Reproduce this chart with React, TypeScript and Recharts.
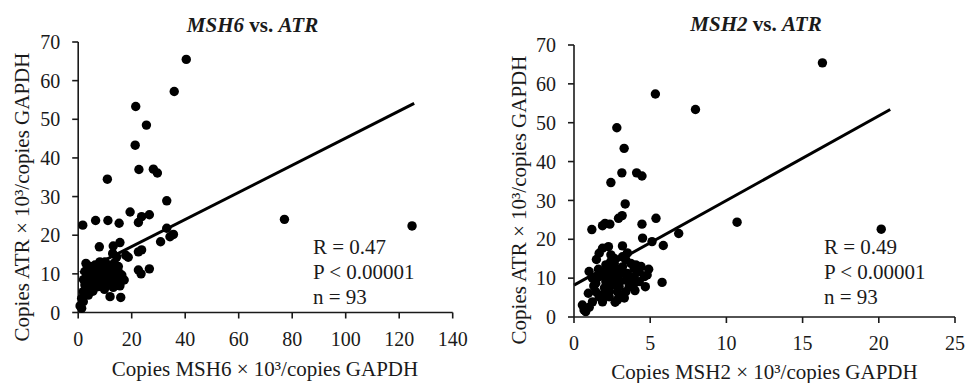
import React from 'react';
import { ScatterChart, Scatter, XAxis, YAxis, ReferenceLine, Label } from 'recharts';

const FONT = "'Liberation Serif', 'Times New Roman', serif";
const INK = '#1a1a1a';

// Left panel: MSH6 (x) vs ATR (y)
const msh6Values = [
  40.4, 35.9, 21.5, 25.5, 21.3, 22.7, 28.1, 29.6, 10.9, 33.1, 19.4, 1.7, 6.5, 11.1, 15.3, 22.5,
  23.7, 26.6, 77.1, 124.8, 7.9, 13.1, 15.6, 12.9, 14.4, 18.7, 22.5, 23.7, 22.5, 26.6, 23.5, 30.8,
  34.3, 35.6, 33.1, 11.9, 15.9, 15.6, 17.2, 16.3, 14.4, 2.9, 4.4, 2.5, 6.3, 8.1, 10.0, 11.3,
  12.5, 9.4, 6.9, 5.0, 7.5, 10.0, 11.9, 13.8, 8.8, 6.3, 3.8, 10.7, 13.1, 7.5, 5.0, 2.5,
  1.9, 3.8, 1.3, 1.9, 0.7, 1.3, 15.0, 15.0, 16.3, 12.9, 9.4, 4.7, 5.7, 11.3, 3.2, 8.5,
  9.0, 4.2, 7.0, 12.0, 2.0, 6.0, 10.5, 13.5, 17.8, 3.5, 8.0, 5.5, 9.8,
];
const atrVsMsh6 = [
  65.5, 57.2, 53.3, 48.5, 43.3, 37.0, 37.1, 36.1, 34.5, 28.9, 26.0, 22.6, 23.8, 23.8, 23.1, 23.3,
  24.8, 25.3, 24.1, 22.4, 17.0, 17.2, 18.1, 15.3, 14.4, 14.3, 15.7, 16.2, 11.0, 11.3, 10.0, 18.3,
  19.6, 20.2, 21.8, 4.1, 3.9, 6.9, 8.4, 9.7, 9.3, 12.7, 11.9, 10.6, 12.3, 13.1, 13.1, 12.3,
  11.9, 11.0, 10.6, 9.7, 9.3, 9.7, 8.8, 8.4, 8.0, 8.0, 8.4, 7.1, 6.5, 6.7, 6.7, 7.1,
  5.4, 4.5, 3.7, 2.8, 1.7, 1.1, 10.6, 11.9, 8.8, 10.1, 12.3, 11.0, 8.8, 8.0, 9.5, 10.2,
  7.0, 6.0, 12.0, 10.5, 8.5, 10.2, 11.5, 12.8, 14.8, 12.0, 8.8, 5.5, 6.0,
];

// Right panel: MSH2 (x) vs ATR (y)
const msh2Values = [
  16.3, 5.34, 7.97, 2.81, 3.29, 3.14, 4.11, 4.46, 2.42, 3.36, 10.7, 20.16, 6.87, 5.38, 4.46, 4.5,
  5.12, 5.86, 5.78, 4.9, 3.16, 2.92, 3.18, 1.17, 1.87, 2.04, 2.35, 1.87, 2.26, 1.65, 1.47, 2.42,
  2.64, 0.99, 0.94, 0.55, 0.66, 0.77, 1.21, 2.85, 4.68, 4.28, 3.95, 3.51, 3.4, 2.96, 2.31, 1.65,
  1.43, 1.87, 2.31, 2.75, 3.18, 3.73, 4.28, 4.06, 3.4, 2.85, 2.09, 2.52, 1.87, 2.31, 2.85, 1.65,
  1.21, 2.64, 2.09, 3.18, 3.4, 3.07, 3.62, 3.95, 4.61, 2.96, 1.43, 2.2, 2.52, 4.4, 3.7, 2.0,
  1.6, 3.0, 4.0, 2.7, 1.3, 3.3, 4.8, 2.4, 1.9, 3.9, 2.6, 3.5, 1.0,
];
const atrVsMsh2 = [
  65.4, 57.4, 53.4, 48.7, 43.4, 37.1, 37.1, 36.3, 34.6, 29.1, 24.4, 22.6, 21.5, 25.4, 23.9, 20.3,
  19.4, 18.4, 8.9, 12.3, 26.1, 25.4, 18.3, 22.5, 23.5, 24.1, 23.9, 17.7, 18.1, 16.4, 14.8, 16.0,
  15.1, 11.7, 6.1, 3.1, 1.8, 1.4, 3.9, 4.4, 7.8, 9.1, 10.4, 11.2, 6.5, 7.8, 6.5, 5.2,
  8.7, 11.2, 12.1, 12.5, 12.9, 13.8, 11.7, 13.4, 9.5, 10.4, 9.1, 8.2, 3.9, 5.2, 6.5, 10.4,
  10.0, 13.8, 13.4, 15.5, 14.7, 11.2, 7.8, 12.5, 10.4, 5.2, 6.5, 10.4, 11.2, 13.0, 10.0, 7.5,
  12.3, 9.0, 6.8, 3.8, 8.0, 4.9, 10.8, 14.2, 5.8, 8.3, 9.8, 16.5, 2.5,
];

const msh6Ticks = [0, 20, 40, 60, 80, 100, 120, 140];
const msh2Ticks = [0, 5, 10, 15, 20, 25];
const atrTicks = [0, 10, 20, 30, 40, 50, 60, 70];

// Linear fit end points (x, y)
const msh6FitX = [0.7, 125.6];
const msh6FitY = [10.3, 54.1];
const msh2FitX = [0.0, 20.75];
const msh2FitY = [8.2, 53.4];

const msh6Points = msh6Values.map((x, i) => ({ x, y: atrVsMsh6[i] }));
const msh2Points = msh2Values.map((x, i) => ({ x, y: atrVsMsh2[i] }));

const dot = (p: any) => <circle cx={p.cx} cy={p.cy} r={4.7} fill="#000" />;

interface PanelProps {
  left: number;
  width: number;
  margin: { top: number; right: number; bottom: number; left: number };
  yAxisWidth: number;
  xMax: number;
  xTicks: number[];
  points: { x: number; y: number }[];
  fitX: number[];
  fitY: number[];
  xTitle: string;
  xTitlePos: [number, number];
  yTitlePos: [number, number];
}

function Panel(props: PanelProps) {
  const axisStyle = { stroke: INK, strokeWidth: 1.6 };
  const tickStyle = { fill: INK, fontSize: 20, fontFamily: FONT };
  return (
    <div style={{ position: 'absolute', left: props.left, top: 0 }}>
      <ScatterChart width={props.width} height={383} margin={props.margin}>
        <XAxis
          type="number"
          dataKey="x"
          domain={[0, props.xMax]}
          ticks={props.xTicks}
          interval={0}
          axisLine={axisStyle}
          tickLine={axisStyle}
          tickSize={6}
          tickMargin={13}
          tick={tickStyle}
          height={40}
        >
          <Label
            content={() => (
              <text
                x={props.xTitlePos[0]}
                y={props.xTitlePos[1]}
                textAnchor="middle"
                fontFamily={FONT}
                fontSize={21}
                fill={INK}
              >
                {props.xTitle}
              </text>
            )}
          />
        </XAxis>
        <YAxis
          type="number"
          dataKey="y"
          domain={[0, 70]}
          ticks={atrTicks}
          interval={0}
          axisLine={axisStyle}
          tickLine={axisStyle}
          tickSize={6}
          tickMargin={12}
          tick={tickStyle}
          width={props.yAxisWidth}
        >
          <Label
            content={() => (
              <text
                x={props.yTitlePos[0]}
                y={props.yTitlePos[1]}
                textAnchor="middle"
                transform={`rotate(-90, ${props.yTitlePos[0]}, ${props.yTitlePos[1]})`}
                fontFamily={FONT}
                fontSize={21}
                fill={INK}
              >
                Copies ATR × 10³/copies GAPDH
              </text>
            )}
          />
        </YAxis>
        <ReferenceLine
          segment={[
            { x: props.fitX[0], y: props.fitY[0] },
            { x: props.fitX[1], y: props.fitY[1] },
          ]}
          stroke="#000"
          strokeWidth={3}
          ifOverflow="visible"
        />
        <Scatter data={props.points} shape={dot} isAnimationActive={false} />
      </ScatterChart>
    </div>
  );
}

export default function App() {
  const txt = { fontFamily: FONT, fontSize: 21, fill: INK } as const;
  return (
    <div style={{ position: 'absolute', left: 0, top: 0, width: 968, height: 383, background: '#fff' }}>
      <Panel
        left={0}
        width={480}
        margin={{ top: 42, right: 27.3, bottom: 30.5, left: 0 }}
        yAxisWidth={78.2}
        xMax={140}
        xTicks={msh6Ticks}
        points={msh6Points}
        fitX={msh6FitX}
        fitY={msh6FitY}
        xTitle="Copies MSH6 × 10³/copies GAPDH"
        xTitlePos={[265, 376]}
        yTitlePos={[29, 197]}
      />
      <Panel
        left={480}
        width={488}
        margin={{ top: 45, right: 13, bottom: 26, left: 0 }}
        yAxisWidth={94}
        xMax={25}
        xTicks={msh2Ticks}
        points={msh2Points}
        fitX={msh2FitX}
        fitY={msh2FitY}
        xTitle="Copies MSH2 × 10³/copies GAPDH"
        xTitlePos={[284.5, 379]}
        yTitlePos={[46, 200]}
      />
      <svg
        width={968}
        height={383}
        style={{ position: 'absolute', left: 0, top: 0, pointerEvents: 'none' }}
      >
        <text x={252.5} y={31.5} textAnchor="middle" fontFamily={FONT} fontSize={21} fontWeight="bold" fill={INK}>
          <tspan fontStyle="italic">MSH6</tspan> vs. <tspan fontStyle="italic">ATR</tspan>
        </text>
        <text x={756} y={31} textAnchor="middle" fontFamily={FONT} fontSize={21} fontWeight="bold" fill={INK}>
          <tspan fontStyle="italic">MSH2</tspan> vs. <tspan fontStyle="italic">ATR</tspan>
        </text>
        <text x={313} y={254} {...txt}>R = 0.47</text>
        <text x={313} y={279} {...txt}>P &lt; 0.00001</text>
        <text x={313} y={304} {...txt}>n = 93</text>
        <text x={824} y={254} {...txt}>R = 0.49</text>
        <text x={824} y={279} {...txt}>P &lt; 0.00001</text>
        <text x={824} y={304} {...txt}>n = 93</text>
      </svg>
    </div>
  );
}
